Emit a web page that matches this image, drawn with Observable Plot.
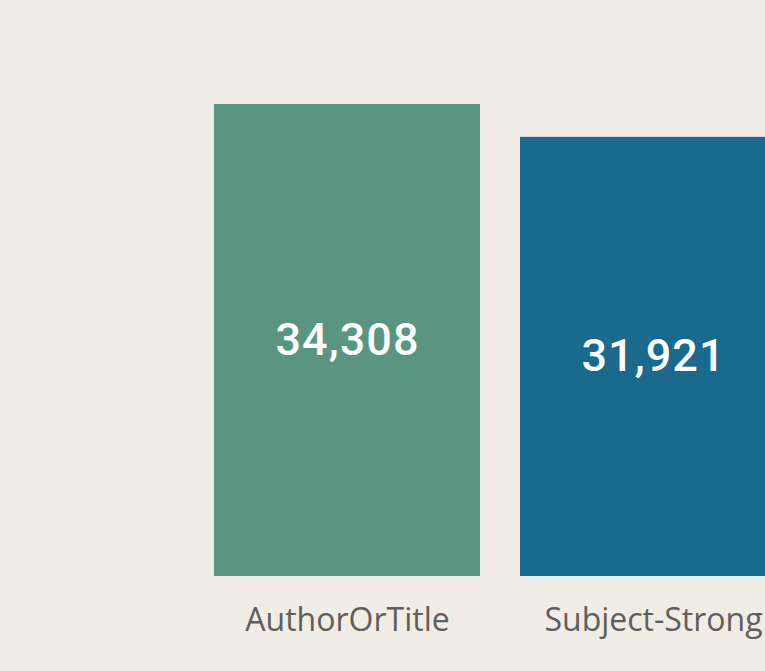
<!DOCTYPE html>
<html>
<head>
<meta charset="utf-8">
<script src="https://cdn.jsdelivr.net/npm/d3@7"></script>
<script src="https://cdn.jsdelivr.net/npm/@observablehq/plot@0.6"></script>
<style>
  html, body { margin: 0; padding: 0; background: #F0EDE6; overflow: hidden; }
  #chart { width: 765px; height: 671px; overflow: hidden; }
  .vlabel text { letter-spacing: 1px; }
</style>
</head>
<body>
<div id="chart"></div>
<script>
const categories = ["AuthorOrTitle", "Subject-Strong"];
const values = [34308, 31921];
const colors = ["#5A9582", "#1A6A8D"];

const data = categories.map((c, i) => ({category: c, value: values[i], color: colors[i]}));
const fmt = d3.format(",");

const chart = Plot.plot({
  width: 765,
  height: 671,
  marginTop: 104,
  marginBottom: 95,
  marginLeft: 0,
  marginRight: 0,
  style: {background: "#F0EDE6", overflow: "hidden"},
  x: {domain: categories, range: [214, 786], paddingInner: 40 / 306, paddingOuter: 0, axis: null},
  y: {domain: [0, d3.max(values)], nice: false, axis: null},
  color: {type: "identity"},
  marks: [
    Plot.barY(data, {x: "category", y: "value", fill: "color"}),
    Plot.text(data, {
      x: "category",
      y: d => d.value / 2,
      text: d => fmt(d.value),
      fill: "white",
      fontSize: 45,
      fontFamily: "Roboto",
      fontWeight: 500,
      lineAnchor: "middle",
      className: "vlabel"
    }),
    Plot.axisX({
      domain: categories,
      tickSize: 0,
      tickPadding: 32,
      fontSize: 32,
      fontFamily: "'Open Sans', 'Noto Sans', sans-serif",
      color: "#605E5C",
      label: null
    })
  ]
});
document.getElementById("chart").appendChild(chart);
</script>
</body>
</html>
